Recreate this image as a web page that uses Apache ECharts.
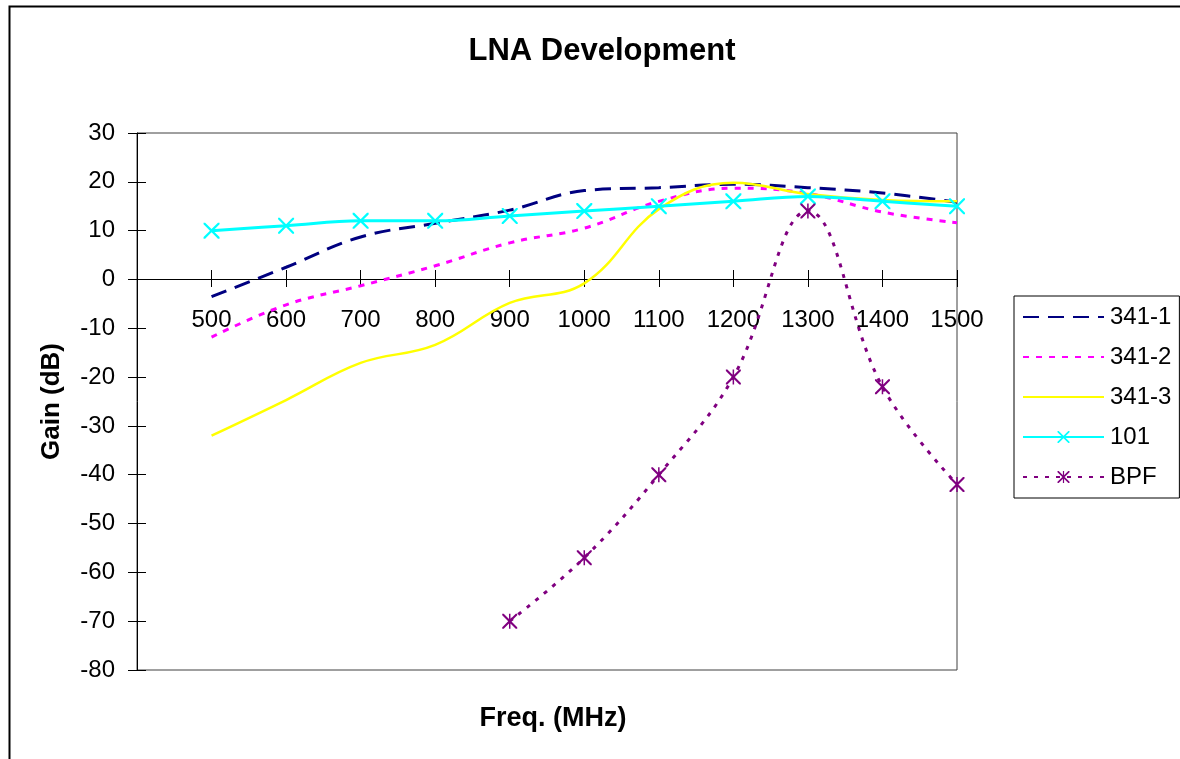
<!DOCTYPE html>
<html>
<head>
<meta charset="utf-8">
<script src="https://cdn.jsdelivr.net/npm/echarts@6/dist/echarts.min.js"></script>
<style>
html,body{margin:0;padding:0;background:#fff;}
#chart{width:1180px;height:759px;}
</style>
</head>
<body>
<div id="chart"></div>
<script>
var freqs = [500, 600, 700, 800, 900, 1000, 1100, 1200, 1300, 1400, 1500];
var s341_1 = [-3.5, 2.5, 8.7, 11.5, 14.2, 18.2, 18.8, 19.5, 18.8, 17.7, 15.8];
var s341_2 = [-11.8, -5.2, -1.3, 2.8, 7.5, 10.5, 16.0, 18.7, 17.6, 13.8, 11.6];
var s341_3 = [-32, -24.7, -17.1, -13.4, -4.8, -0.8, 14.4, 19.8, 17.5, 16.3, 16.0];
var s101   = [10, 11, 12, 12, 13, 14, 15, 16, 17, 16, 15];
var sBPF   = [null, null, null, null, -70, -57, -40, -20, 14, -22, -42];
var seriesNames = ['341-1', '341-2', '341-3', '101', 'BPF'];
var yTicks = {min: -80, max: 30, step: 10};
var xTicks = {min: 400, max: 1500, step: 100};

function pairs(vals) {
  var out = [];
  for (var i = 0; i < freqs.length; i++) {
    if (vals[i] !== null) out.push([freqs[i], vals[i]]);
  }
  return out;
}

var FONT = 'Liberation Sans, Arial, sans-serif';
var xPath = 'path://M0,0L2,0L10,8L18,0L20,0L20,2L12,10L20,18L20,20L18,20L10,12L2,20L0,20L0,18L8,10L0,2Z';
var starPath = 'path://M0,0L2,0L10,8L18,0L20,0L20,2L12,10L20,18L20,20L18,20L10,12L2,20L0,20L0,18L8,10L0,2Z M9,0L11,0L11,20L9,20Z';
var SMOOTH = 0.4;

var GRID_TOP = 133, GRID_BOTTOM_PX = 670;
var zeroOffset = -Math.round((GRID_BOTTOM_PX - GRID_TOP) * (0 - yTicks.min) / (yTicks.max - yTicks.min));

var chart = echarts.init(document.getElementById('chart'), null, {renderer: 'canvas'});
var option = {
  backgroundColor: '#ffffff',
  animation: false,
  textStyle: {fontFamily: FONT, color: '#000'},
  title: [
    {text: 'LNA Development', left: 597, top: 31, textAlign: 'center',
     textStyle: {fontFamily: FONT, fontSize: 31, fontWeight: 'bold', color: '#000'}},
    {text: 'Freq. (MHz)', left: 548, top: 700, textAlign: 'center',
     textStyle: {fontFamily: FONT, fontSize: 27, fontWeight: 'bold', color: '#000'}}
  ],
  graphic: [
    {type: 'rect', left: 7, top: 4, z: -10, silent: true,
     shape: {x: 0, y: 0, width: 1300, height: 900},
     style: {fill: 'none', stroke: '#000', lineWidth: 2}}
  ],
  grid: {left: 137, right: 223, top: GRID_TOP, bottom: 759 - GRID_BOTTOM_PX, show: true,
         borderColor: '#404040', borderWidth: 1, backgroundColor: 'transparent'},
  legend: {
    orient: 'vertical', left: 1014, top: 296,
    padding: [9, 8, 9, 8], itemGap: 16, itemWidth: 81, itemHeight: 15,
    borderColor: '#000', borderWidth: 1, backgroundColor: '#fff',
    textStyle: {fontFamily: FONT, fontSize: 24, color: '#000', width: 75, padding: [0,0,0,1]},
    data: [
      {name: '341-1', itemStyle: {opacity: 0}},
      {name: '341-2', itemStyle: {opacity: 0}},
      {name: '341-3', itemStyle: {opacity: 0}},
      {name: '101'},
      {name: 'BPF'}
    ]
  },
  xAxis: [
    {type: 'value', min: xTicks.min, max: xTicks.max, interval: xTicks.step,
     position: 'bottom', offset: zeroOffset,
     axisLine: {onZero: false, lineStyle: {color: '#000', width: 1}},
     axisTick: {show: true, inside: false, length: 8, lineStyle: {color: '#000'}},
     axisLabel: {show: true, margin: 29, fontFamily: FONT, fontSize: 24, color: '#000',
                 formatter: function (v) { return v === xTicks.min ? '' : String(v); }},
     splitLine: {show: false}},
    {type: 'value', min: xTicks.min, max: xTicks.max, interval: xTicks.step,
     position: 'bottom', offset: zeroOffset,
     axisLine: {onZero: false, show: false},
     axisTick: {show: true, inside: true, length: 9, lineStyle: {color: '#000'}},
     axisLabel: {show: false}, splitLine: {show: false}}
  ],
  yAxis: [
    {type: 'value', min: yTicks.min, max: yTicks.max, interval: yTicks.step,
     name: 'Gain (dB)', nameLocation: 'middle', nameGap: 72, nameRotate: 90,
     nameTextStyle: {fontFamily: FONT, fontSize: 26, fontWeight: 'bold', color: '#000'},
     axisLine: {show: true, onZero: false, lineStyle: {color: '#000', width: 1}},
     axisTick: {show: true, inside: false, length: 9, lineStyle: {color: '#000'}},
     axisLabel: {margin: 22, fontFamily: FONT, fontSize: 24, color: '#000'},
     splitLine: {show: false}},
    {type: 'value', min: yTicks.min, max: yTicks.max, interval: yTicks.step, position: 'left',
     axisLine: {show: false, onZero: false},
     axisTick: {show: true, inside: true, length: 9, lineStyle: {color: '#000'}},
     axisLabel: {show: false}, splitLine: {show: false}}
  ],
  series: [
    {name: '341-1', type: 'line', data: pairs(s341_1), smooth: SMOOTH, symbol: 'none', color: '#000080',
     lineStyle: {color: '#000080', width: 3, type: [16, 9]}, z: 2},
    {name: '341-2', type: 'line', data: pairs(s341_2), smooth: SMOOTH, symbol: 'none', color: '#FF00FF',
     lineStyle: {color: '#FF00FF', width: 3, type: [6, 7]}, z: 2},
    {name: '341-3', type: 'line', data: pairs(s341_3), smooth: SMOOTH, symbol: 'none', color: '#FFFF00',
     lineStyle: {color: '#FFFF00', width: 2.5, type: 'solid'}, z: 2},
    {name: '101', type: 'line', data: pairs(s101), smooth: SMOOTH, symbol: xPath, symbolSize: 16,
     symbolKeepAspect: true, showSymbol: true, color: '#00FFFF',
     itemStyle: {color: '#00FFFF'}, lineStyle: {color: '#00FFFF', width: 3, type: 'solid'}, z: 3},
    {name: 'BPF', type: 'line', data: pairs(sBPF), smooth: SMOOTH, symbol: starPath, symbolSize: 15,
     symbolKeepAspect: true, showSymbol: true, color: '#800080',
     itemStyle: {color: '#800080'}, lineStyle: {color: '#800080', width: 3, type: [4, 7]}, z: 3}
  ]
};
chart.setOption(option);
</script>
</body>
</html>
